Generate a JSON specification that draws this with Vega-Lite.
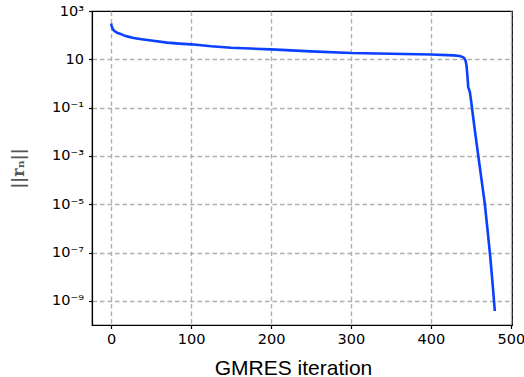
{
  "$schema": "https://vega.github.io/schema/vega-lite/v6.json",
  "width": 420,
  "height": 314,
  "autosize": "none",
  "padding": {"left": 92, "top": 11, "right": 12, "bottom": 52},
  "background": "white",
  "config": {
    "view": {"stroke": "black", "strokeWidth": 1.2},
    "axis": {
      "domainColor": "black",
      "domainWidth": 1.2,
      "tickColor": "black",
      "tickSize": 3.5,
      "tickWidth": 1.2,
      "labelFont": "DejaVu Sans",
      "labelFontSize": 14.5,
      "labelColor": "black",
      "gridColor": "#b0b0b0",
      "gridDash": [4.5, 3],
      "gridWidth": 1.4,
      "titleFont": "Liberation Sans",
      "titleFontWeight": "normal",
      "titleColor": "black"
    }
  },
  "data": {
    "values": [
      {"iter": 0, "res": 302},
      {"iter": 0.5, "res": 251},
      {"iter": 1, "res": 219},
      {"iter": 2, "res": 182},
      {"iter": 3, "res": 162},
      {"iter": 4.5, "res": 145},
      {"iter": 6, "res": 135},
      {"iter": 8, "res": 123},
      {"iter": 11, "res": 115},
      {"iter": 15, "res": 100},
      {"iter": 20, "res": 89},
      {"iter": 28, "res": 76},
      {"iter": 38, "res": 68},
      {"iter": 50, "res": 60},
      {"iter": 70, "res": 49},
      {"iter": 85, "res": 44.7},
      {"iter": 100, "res": 41.7},
      {"iter": 125, "res": 34.7},
      {"iter": 150, "res": 30.2},
      {"iter": 200, "res": 25.7},
      {"iter": 250, "res": 21.4},
      {"iter": 300, "res": 18.2},
      {"iter": 350, "res": 17},
      {"iter": 400, "res": 15.8},
      {"iter": 428, "res": 14.5},
      {"iter": 436, "res": 13.6},
      {"iter": 440, "res": 12.3},
      {"iter": 442, "res": 11},
      {"iter": 443.5, "res": 8.5},
      {"iter": 444.6, "res": 5.5},
      {"iter": 446, "res": 1.6},
      {"iter": 446.7, "res": 0.71},
      {"iter": 448.8, "res": 0.44},
      {"iter": 450.8, "res": 0.145},
      {"iter": 452.9, "res": 0.04},
      {"iter": 456, "res": 0.0065},
      {"iter": 459, "res": 0.0012},
      {"iter": 463, "res": 0.00013},
      {"iter": 467.5, "res": 0.0000102},
      {"iter": 471, "res": 0.00000079},
      {"iter": 474, "res": 0.000000085},
      {"iter": 477, "res": 0.0000000063},
      {"iter": 480, "res": 0.00000000038}
    ]
  },
  "mark": {"type": "line", "color": "#0a40ff", "strokeWidth": 2.6, "clip": true},
  "encoding": {
    "x": {
      "field": "iter",
      "type": "quantitative",
      "scale": {"domain": [-24, 501.5], "nice": false, "zero": false},
      "axis": {
        "values": [0, 100, 200, 300, 400, 500],
        "title": "GMRES iteration",
        "titleFontSize": 21,
        "titleX": 201,
        "titleY": 49,
        "titleAlign": "center",
        "titleBaseline": "alphabetic",
        "labelPadding": 4,
        "labelFlush": false,
        "format": "d"
      }
    },
    "y": {
      "field": "res",
      "type": "quantitative",
      "scale": {"type": "log", "domain": [1e-10, 1000], "nice": false},
      "axis": {
        "values": [1e-9, 1e-7, 1e-5, 0.001, 0.1, 10, 1000],
        "gridOpacity": {"condition": {"test": "datum.value > 500", "value": 0}, "value": 1},
        "labelExpr": "round(log(datum.value)/LN10) == 3 ? '10³' : round(log(datum.value)/LN10) == 1 ? '10\u2002' : round(log(datum.value)/LN10) == -1 ? '10⁻¹' : round(log(datum.value)/LN10) == -3 ? '10⁻³' : round(log(datum.value)/LN10) == -5 ? '10⁻⁵' : round(log(datum.value)/LN10) == -7 ? '10⁻⁷' : '10⁻⁹'",
        "title": "||rₙ||",
        "titleFont": "DejaVu Serif",
        "titleFontWeight": "bold",
        "titleFontSize": 16,
        "titleColor": "#555555",
        "titlePadding": 25,
        "labelPadding": 5
      }
    }
  }
}
